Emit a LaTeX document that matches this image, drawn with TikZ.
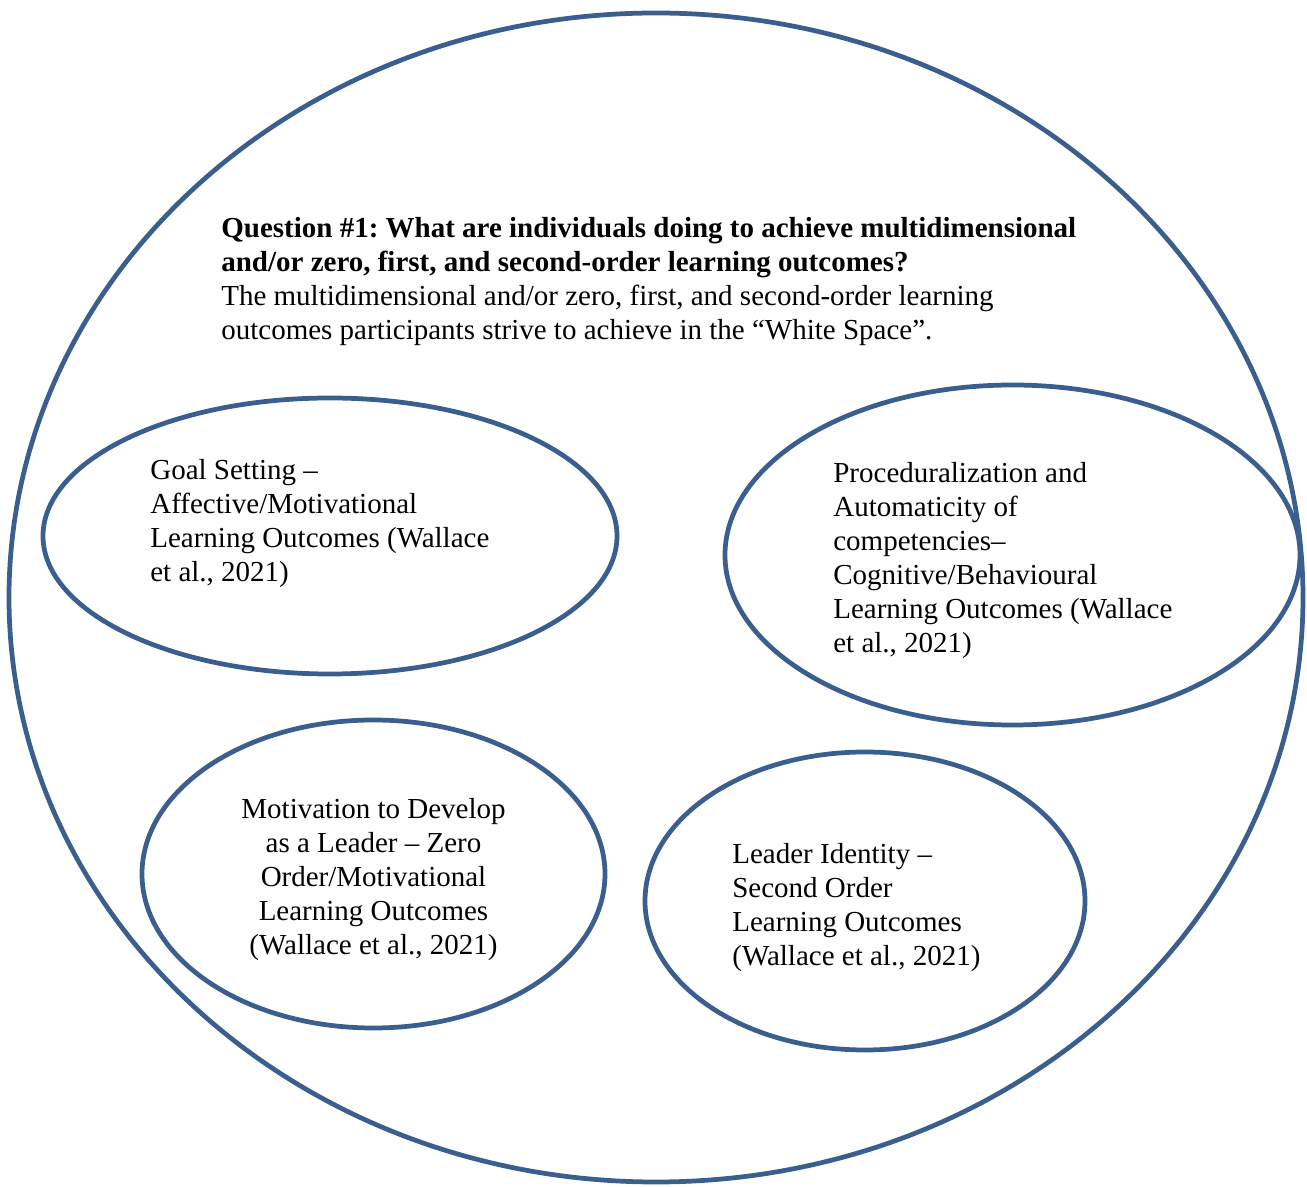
\documentclass[tikz,border=0pt]{standalone}
\usepackage{fontspec}
\setmainfont{Liberation Serif}
\frenchspacing
\usetikzlibrary{shapes.geometric, positioning}
\definecolor{bubbleblue}{RGB}{58,95,142}

\begin{document}
\begin{tikzpicture}[
    bubble/.style={ellipse, draw=bubbleblue, line width=2.7pt, inner sep=0pt, outer sep=0pt},
    caption/.style={align=left, inner sep=0pt, font=\fontsize{16.5}{19.35}\selectfont},
    centercaption/.style={caption, align=center}
]
\useasboundingbox (0,0) rectangle (26.14,-23.74);

% ---- ruang luar ----
\node[bubble, minimum width=25.88cm, minimum height=23.38cm] (space) at (13.12,-11.95) {};

% ---- pertanyaan ----
\node[caption, anchor=north west] (question) at (4.42,-4.34)
  {\textbf{Question \#1: What are individuals doing to achieve multidimensional}\\
   \textbf{and/or zero, first, and second-order learning outcomes?}\\
   The multidimensional and/or zero, first, and second-order learning\\
   outcomes participants strive to achieve in the “White Space”.};

% ---- empat elips hasil belajar ----
\node[bubble, minimum width=11.48cm, minimum height=5.52cm] (goal)   at (6.60,-10.72) {};
\node[bubble, minimum width=11.50cm, minimum height=6.80cm] (proc)   at (20.25,-11.10) {};
\node[bubble, minimum width=9.26cm,  minimum height=6.16cm] (motiv)  at (7.47,-17.48) {};
\node[bubble, minimum width=8.80cm,  minimum height=5.96cm] (ident)  at (17.30,-18.02) {};

% ---- teks di dalam elips ----
\node[caption, anchor=north west] (goaltxt) at (3.00,-9.18)
  {Goal Setting –\\ Affective/Motivational\\ Learning Outcomes (Wallace\\ et al., 2021)};
\node[caption, anchor=north west] (proctxt) at (16.66,-9.24)
  {Proceduralization and\\ Automaticity of\\ competencies–\\ Cognitive/Behavioural\\ Learning Outcomes (Wallace\\ et al., 2021)};
\node[centercaption, anchor=north] (motivtxt) at (7.47,-15.96)
  {Motivation to Develop\\ as a Leader – Zero\\ Order/Motivational\\ Learning Outcomes\\ (Wallace et al., 2021)};
\node[caption, anchor=north west] (identtxt) at (14.64,-16.86)
  {Leader Identity –\\ Second Order\\ Learning Outcomes\\ (Wallace et al., 2021)};

\end{tikzpicture}
\end{document}
